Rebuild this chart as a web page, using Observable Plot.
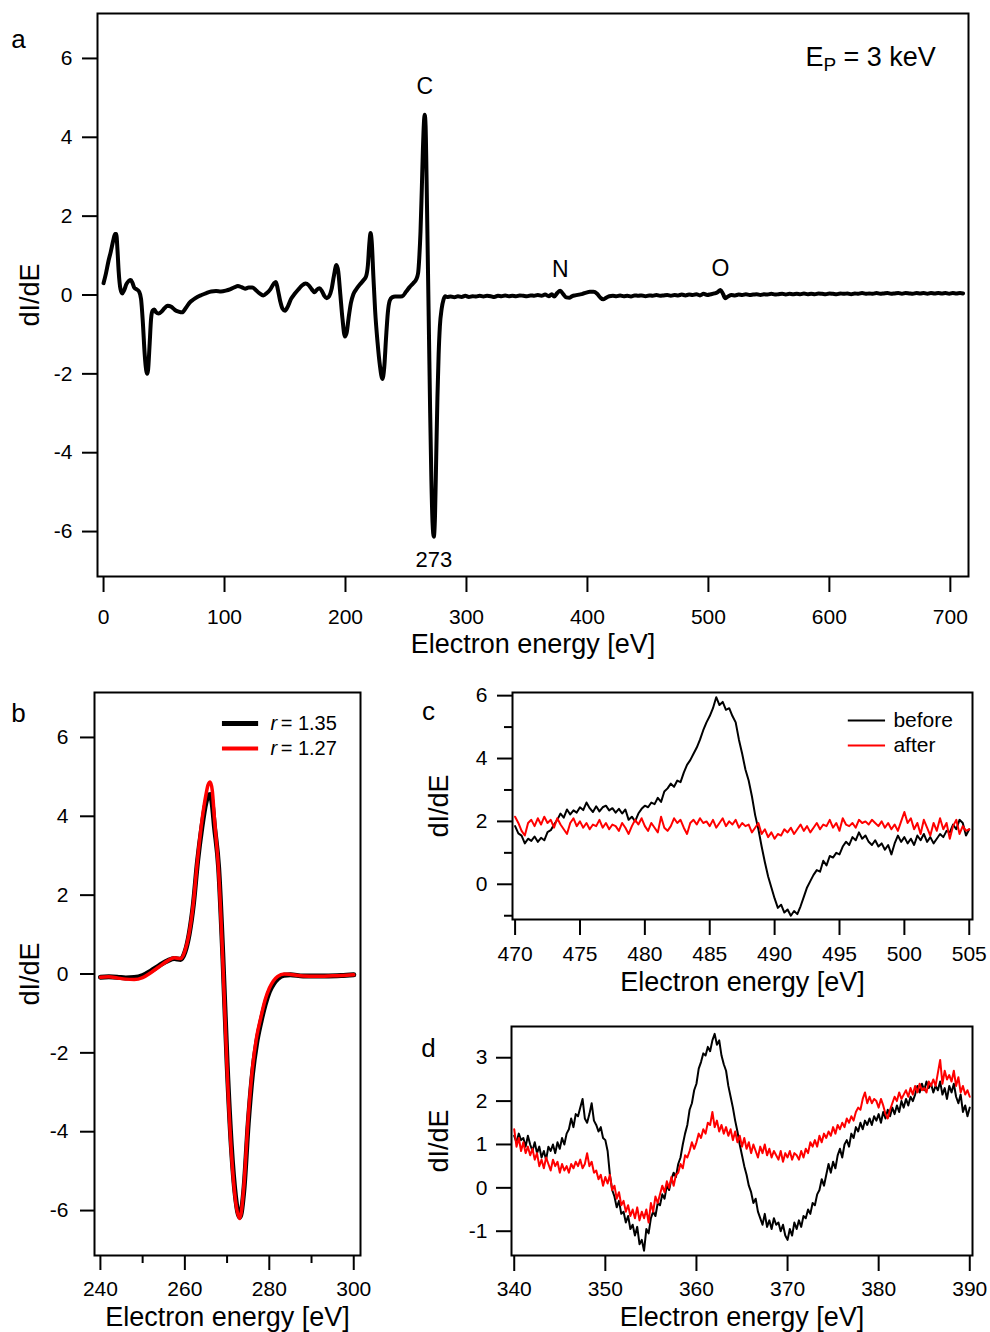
<!DOCTYPE html>
<html>
<head>
<meta charset="utf-8">
<script src="https://cdn.jsdelivr.net/npm/d3@7"></script>
<script src="https://cdn.jsdelivr.net/npm/@observablehq/plot@0.6"></script>
<style>
  html, body { margin: 0; padding: 0; background: #fff; }
  #fig { position: relative; width: 990px; height: 1332px; background: #fff; }
  #fig svg { position: absolute; overflow: visible; }
</style>
</head>
<body>
<div id="fig"></div>
<script>
// ---------------- DATA ----------------
// Panel a: full spectrum [energy eV, dI/dE]
const spectrumA = [
  [0,0.30],[2,0.55],[4,0.85],[6,1.10],[8,1.38],[9.5,1.55],[10.5,1.55],[11.5,1.15],[12.5,0.60],[14,0.15],
  [15.5,0.04],[17,0.12],[19,0.28],[21,0.36],[22.5,0.38],[24,0.30],[25.5,0.18],[27.5,0.14],[29.5,0.08],[31,-0.10],
  [32.5,-0.70],[34,-1.50],[35.3,-1.92],[36,-2.00],[36.8,-1.90],[38,-1.30],[39.3,-0.60],[40.5,-0.40],[42,-0.37],[43.5,-0.44],
  [45.5,-0.47],[48,-0.42],[50.5,-0.33],[53,-0.27],[56,-0.30],[59,-0.38],[62,-0.42],[65,-0.44],[68,-0.33],[71,-0.20],
  [74,-0.12],[77.5,-0.05],[81,0.00],[85,0.05],[89,0.09],[93,0.10],[97,0.09],[101,0.11],[105,0.15],[108.5,0.20],
  [111,0.23],[114,0.20],[117,0.16],[120,0.19],[123,0.19],[126,0.12],[129,0.04],[132,-0.01],[135,0.05],[138,0.15],
  [141,0.30],[142.5,0.33],[144,0.15],[146,-0.15],[148,-0.35],[150,-0.40],[152.5,-0.28],[155,-0.10],[158,0.03],[161,0.14],
  [164,0.24],[167,0.29],[169.5,0.25],[172,0.15],[174.5,0.07],[176.5,0.14],[178.5,0.17],[180.5,0.10],[182.5,-0.02],[184.5,-0.08],
  [186.5,-0.03],[188.5,0.15],[190.5,0.50],[192.5,0.76],[194,0.60],[195.5,0.10],[197.5,-0.60],[199.5,-1.05],[201,-0.95],[202.5,-0.60],
  [204.5,-0.20],[206.5,0.02],[209,0.15],[212,0.27],[215,0.38],[217,0.47],[218.5,0.75],[219.7,1.30],[220.7,1.57],[221.7,1.35],
  [223,0.50],[224.5,-0.40],[226.5,-1.20],[228.5,-1.80],[230.5,-2.13],[232,-1.85],[233.5,-1.10],[235,-0.45],[236.5,-0.15],[238.5,-0.06],
  [241,-0.04],[244,-0.04],[247,-0.03],[250,0.08],[253,0.20],[256,0.30],[258.5,0.40],[260,0.55],[261,0.95],[262,1.60],
  [263,2.60],[264,3.70],[264.8,4.35],[265.5,4.57],[266.2,4.30],[267,3.00],[268,1.00],[269,-1.00],[270,-3.00],[271,-4.70],
  [272,-5.80],[273,-6.13],[274,-5.60],[275,-4.10],[276,-2.60],[277,-1.50],[278,-0.80],[279.5,-0.35],[281,-0.12],[282.5,-0.03],
  [284,-0.05],[287,-0.04],[290,-0.06],[293,-0.03],[296,-0.05],[299,-0.02],[302,-0.05],[305,-0.03],[308,-0.04],[311,-0.02],
  [314,-0.04],[317,-0.02],[320,-0.03],[323,-0.05],[326,-0.02],[329,-0.03],[332,-0.01],[335,-0.03],[338,-0.02],[341,-0.03],
  [344,-0.01],[347,-0.02],[350,-0.03],[353,-0.01],[356,-0.02],[359,0.00],[362,-0.02],[365,0.01],[368,-0.03],[370.5,0.02],
  [372.5,-0.04],[375,0.05],[377.5,0.11],[380,0.02],[382.5,-0.06],[385,-0.07],[387.5,-0.03],[390,-0.01],[393,0.01],[396,0.03],
  [399,0.06],[402,0.08],[405,0.08],[408,0.03],[410.5,-0.06],[413,-0.11],[415.5,-0.07],[418,-0.03],[421,-0.02],[424,-0.03],
  [427,-0.01],[430,-0.03],[433,-0.02],[436,-0.04],[439,-0.01],[442,-0.02],[445,-0.01],[448,-0.03],[451,-0.01],[454,-0.02],
  [457,0.00],[460,-0.02],[463,-0.01],[466,0.00],[469,-0.02],[472,0.00],[475,-0.01],[478,0.01],[481,-0.01],[484,0.01],
  [487,0.00],[490,0.02],[493,-0.01],[496,0.03],[499,0.00],[502,0.02],[505,0.04],[507.5,0.07],[510,0.13],[512,0.03],
  [514,-0.08],[516.5,-0.03],[519,0.00],[522,-0.01],[525,0.01],[528,0.00],[531,0.02],[534,0.00],[537,0.01],[540,0.02],
  [543,0.00],[546,0.02],[549,0.01],[552,0.03],[555,0.01],[558,0.02],[561,0.03],[564,0.01],[567,0.03],[570,0.02],
  [573,0.03],[576,0.02],[579,0.04],[582,0.02],[585,0.03],[588,0.02],[591,0.04],[594,0.03],[597,0.02],[600,0.04],
  [603,0.03],[606,0.02],[609,0.04],[612,0.03],[615,0.04],[618,0.02],[621,0.04],[624,0.03],[627,0.05],[630,0.03],
  [633,0.04],[636,0.03],[639,0.05],[642,0.03],[645,0.04],[648,0.05],[651,0.03],[654,0.04],[657,0.05],[660,0.03],
  [663,0.05],[666,0.04],[669,0.03],[672,0.05],[675,0.04],[678,0.05],[681,0.03],[684,0.05],[687,0.04],[690,0.05],
  [693,0.04],[696,0.05],[699,0.03],[702,0.05],[705,0.04],[708,0.05],[710.5,0.04]
];
const peakNames = ["C", "N", "O"];
const peakEnergies = [265.5, 377.5, 510];
const minimumEnergy = 273;
const xTicksA = [0, 100, 200, 300, 400, 500, 600, 700];
const yTicksA = [-6, -4, -2, 0, 2, 4, 6];

// Panel b: carbon KLL peak for two ratios
const energyB = [240,242,244,246,248,250,252,254,256,257.5,259,260,261,262,263,264,265,265.5,266,266.5,267,268,269,270,271,272,273,274,275,276,277,278,279,280,281,282,283.5,285,288,291,294,297,300];
const signalR135 = [-0.08,-0.07,-0.08,-0.10,-0.09,-0.04,0.08,0.22,0.34,0.39,0.37,0.55,1.00,1.75,2.85,3.70,4.35,4.52,4.55,4.30,3.75,2.70,0.45,-2.25,-4.35,-5.65,-6.17,-5.45,-3.80,-2.55,-1.75,-1.22,-0.78,-0.45,-0.25,-0.12,-0.03,-0.02,-0.05,-0.05,-0.05,-0.04,-0.02];
const signalR127 = [-0.08,-0.07,-0.10,-0.13,-0.14,-0.09,0.04,0.19,0.34,0.41,0.39,0.58,1.02,1.78,2.90,3.85,4.55,4.80,4.87,4.65,3.95,2.60,0.30,-2.40,-4.50,-5.75,-6.20,-5.35,-3.65,-2.40,-1.60,-1.10,-0.66,-0.36,-0.17,-0.06,0.00,-0.01,-0.05,-0.06,-0.05,-0.04,-0.02];
const ratioLabels = ["1.35", "1.27"];
const xTicksB = [240, 260, 280, 300];
const xMinorB = [250, 270, 290];
const yTicksB = [-6, -4, -2, 0, 2, 4, 6];

// Panel c: 470–505 eV, sampled every 0.25 eV
const startC = 470, stepC = 0.25;
const beforeC = [
  1.85,1.62,1.55,1.30, 1.45,1.38,1.52,1.35, 1.48,1.40,1.66,1.72, 1.90,2.05,2.25,2.12, 2.38,2.22,2.35,2.28,
  2.45,2.36,2.60,2.42, 2.30,2.48,2.32,2.45, 2.50,2.35,2.42,2.28, 2.40,2.25,2.38,2.05, 2.15,2.00,2.25,2.40,
  2.50,2.45,2.60,2.55, 2.75,2.62,2.95,3.05, 3.20,3.10,3.30,3.25, 3.55,3.80,3.95,4.15, 4.35,4.60,4.90,5.15,
  5.35,5.60,5.95,5.70, 5.80,5.55,5.60,5.35, 5.15,4.60,4.15,3.65, 3.30,2.80,2.20,1.75, 1.20,0.70,0.25,-0.10,
  -0.45,-0.75,-0.65,-0.90, -0.80,-1.00,-0.85,-0.95, -0.70,-0.40,-0.10,0.10, 0.30,0.45,0.40,0.75, 0.60,0.90,0.85,1.00,
  0.95,1.20,1.35,1.25, 1.50,1.40,1.65,1.45, 1.55,1.35,1.25,1.40, 1.20,1.30,1.10,1.25, 0.95,1.30,1.55,1.35,
  1.50,1.30,1.45,1.25, 1.55,1.40,1.60,1.35, 1.50,1.30,1.45,1.60, 1.50,1.70,1.65,1.90, 1.75,2.05,1.95,1.55,
  1.75
];
const afterC = [
  2.15,1.95,1.70,1.55, 1.95,2.05,1.85,2.10, 1.90,2.15,1.95,2.05, 1.80,2.10,1.90,1.75, 1.60,1.95,2.10,1.85,
  2.00,1.80,1.95,1.75, 1.90,1.85,2.05,1.80, 1.95,1.75,1.90,1.85, 1.70,1.95,1.80,1.60, 1.85,2.05,1.90,2.10,
  1.85,1.70,1.95,1.80, 1.65,2.15,1.80,1.70, 1.85,2.10,1.95,2.05, 1.80,1.60,1.95,2.05, 1.90,2.10,1.95,2.00,
  1.85,2.05,1.80,1.95, 2.10,1.85,2.00,1.90, 2.05,1.80,1.95,1.85, 1.90,1.65,1.80,1.95, 1.60,1.75,1.50,1.65,
  1.45,1.60,1.55,1.75, 1.65,1.80,1.60,1.75, 1.90,1.70,1.85,1.65, 1.80,1.95,1.75,1.90, 1.85,2.05,1.80,1.95,
  1.70,2.10,1.90,1.85, 1.95,1.80,2.05,1.95, 2.00,1.90,2.05,1.95, 1.85,2.00,1.80,1.95, 1.75,1.90,1.70,2.00,
  2.30,1.95,2.10,1.75, 1.95,1.60,2.05,1.80, 1.55,1.95,1.70,2.10, 1.75,1.95,1.45,1.85, 2.05,1.60,1.85,1.70,
  1.75
];
const xTicksC = [470, 475, 480, 485, 490, 495, 500, 505];
const yTicksC = [0, 2, 4, 6];
const yMinorC = [-1, 1, 3, 5];
const seriesNames = ["before", "after"];

// Panel d: 340–390 eV, sampled every 0.25 eV
const startD = 340, stepD = 0.25;
const beforeD = [
  1.20,1.05,1.25,1.10, 1.15,0.95,1.20,1.00, 0.85,1.05,0.80,0.95, 0.70,0.85,0.65,0.95, 0.85,1.00,0.80,1.05,
  0.90,1.15,1.00,1.25, 1.35,1.60,1.40,1.70, 1.65,1.85,2.05,1.60, 1.50,1.70,1.95,1.55, 1.45,1.30,1.40,1.15,
  1.10,0.85,0.30,-0.05, -0.20,-0.45,-0.30,-0.60, -0.55,-0.80,-0.65,-0.95, -0.85,-1.10,-0.90,-1.30, -1.20,-1.45,-0.95,-1.05,
  -0.70,-0.55,-0.65,-0.35, -0.40,-0.15,-0.25,0.05, -0.05,0.20,0.35,0.25, 0.55,0.70,1.00,1.25, 1.45,1.80,1.95,2.25,
  2.40,2.75,2.90,3.10, 3.05,3.25,3.15,3.40, 3.55,3.30,3.40,3.05, 2.85,2.70,2.35,2.10, 1.85,1.55,1.30,1.00,
  0.75,0.50,0.30,0.05, -0.10,-0.35,-0.25,-0.55, -0.70,-0.85,-0.60,-0.90, -0.75,-0.95,-0.70,-0.85, -0.80,-1.00,-0.85,-1.10,
  -1.20,-0.95,-1.10,-0.80, -0.95,-0.75,-0.90,-0.65, -0.70,-0.50,-0.60,-0.35, -0.40,-0.15,-0.05,0.20, 0.05,0.30,0.55,0.35,
  0.60,0.45,0.75,0.90, 0.70,1.00,1.10,0.95, 1.25,1.15,1.40,1.30, 1.50,1.35,1.55,1.45, 1.60,1.45,1.65,1.55,
  1.70,1.50,1.75,1.60, 1.80,1.65,1.85,1.70, 1.90,1.75,2.00,1.85, 2.05,1.90,2.10,2.00, 2.15,2.35,2.20,2.40,
  2.25,2.45,2.30,2.40, 2.20,2.35,2.25,2.45, 2.15,2.30,2.05,2.35, 2.20,2.40,2.10,1.95, 2.15,1.75,1.90,1.65,
  1.85
];
const afterD = [
  1.35,0.95,1.15,0.85, 1.05,0.80,0.95,0.75, 0.90,0.65,0.80,0.50, 0.65,0.45,0.70,0.55, 0.40,0.65,0.50,0.60,
  0.35,0.55,0.40,0.50, 0.35,0.55,0.45,0.60, 0.50,0.65,0.45,0.55, 0.80,0.50,0.60,0.35, 0.40,0.20,0.30,0.05,
  0.25,0.10,0.30,-0.05, 0.05,-0.25,-0.10,-0.40, -0.30,-0.55,-0.40,-0.65, -0.50,-0.70,-0.45,-0.75, -0.55,-0.70,-0.50,-0.80,
  -0.35,-0.55,-0.20,-0.35, -0.15,0.05,-0.10,0.15, 0.00,0.25,0.05,0.30, 0.35,0.55,0.45,0.75, 0.70,0.85,1.05,0.90,
  1.05,1.25,1.15,1.35, 1.25,1.50,1.45,1.75, 1.40,1.55,1.30,1.45, 1.25,1.40,1.20,1.35, 1.10,1.30,1.05,1.20,
  0.95,1.15,0.90,1.05, 0.80,1.00,0.85,0.70, 0.95,0.80,1.00,0.75, 0.90,0.70,0.85,0.75, 0.65,0.85,0.60,0.80,
  0.70,0.85,0.65,0.80, 0.75,0.65,0.85,0.70, 0.90,0.80,1.05,0.95, 1.10,0.95,1.20,1.05, 1.25,1.15,1.30,1.20,
  1.40,1.25,1.45,1.35, 1.50,1.40,1.60,1.50, 1.65,1.55,1.75,1.85, 1.80,2.05,2.20,1.95, 2.10,1.95,2.05,2.00,
  1.85,2.05,1.90,1.70, 1.60,1.80,1.95,2.10, 2.00,2.20,2.05,2.15, 2.25,2.10,2.30,2.15, 2.35,2.20,2.40,2.25,
  2.30,2.20,2.45,2.35, 2.50,2.35,2.65,2.95, 2.40,2.70,2.50,2.60, 2.45,2.70,2.35,2.55, 2.20,2.35,2.15,2.25,
  2.10
];
const xTicksD = [340, 350, 360, 370, 380, 390];
const yTicksD = [-1, 0, 1, 2, 3];

// ---------------- HELPERS ----------------
const FONT = '"Liberation Sans", Arial, Helvetica, sans-serif';
const TITLE = 27;
const fig = document.getElementById("fig");
const fmt = d => String(d);
const fx = (dom, f) => dom[0] + f * (dom[1] - dom[0]);
const fy = (dom, f) => dom[1] - f * (dom[1] - dom[0]);
const gridSeries = (start, step, values) => values.map((v, i) => ({E: start + i * step, v}));

function place(svg, left, top) {
  svg.style.left = left + "px";
  svg.style.top = top + "px";
  fig.appendChild(svg);
}
function styleFor() {
  return {fontFamily: FONT, fontSize: "21px", color: "black", background: "transparent", overflow: "visible"};
}
function axes({xTicks, xMinor = [], yTicks, yMinor = [], xTickSize = 16, xPad = 15, yTickSize = 15, yPad = 10}) {
  const m = [
    Plot.axisX({ticks: xTicks, anchor: "bottom", tickSize: xTickSize, tickPadding: xPad, strokeWidth: 2, fontSize: 21, tickFormat: fmt, label: null}),
    Plot.axisY({ticks: yTicks, anchor: "left", tickSize: yTickSize, tickPadding: yPad, strokeWidth: 2, fontSize: 21, tickFormat: fmt, label: null})
  ];
  if (xMinor.length) m.push(Plot.axisX({ticks: xMinor, anchor: "bottom", tickSize: 8, strokeWidth: 2, tickFormat: () => "", label: null}));
  if (yMinor.length) m.push(Plot.axisY({ticks: yMinor, anchor: "left", tickSize: 8, strokeWidth: 2, tickFormat: () => "", label: null}));
  return m;
}
const panelLabel = (t, dx, dy) => Plot.text([t], {text: d => d, frameAnchor: "top-left", dx, dy, fontSize: 26, textAnchor: "middle", lineAnchor: "middle"});
const yTitle = dx => Plot.text(["dI/dE"], {text: d => d, frameAnchor: "left", dx, rotate: -90, fontSize: TITLE, textAnchor: "middle", lineAnchor: "middle"});
const xTitle = dy => Plot.text(["Electron energy [eV]"], {text: d => d, frameAnchor: "bottom", dy, fontSize: TITLE, textAnchor: "middle", lineAnchor: "middle"});
const frame = () => Plot.frame({stroke: "black", strokeWidth: 2});

// ---------------- PANEL A ----------------
{
  const xDom = [-5, 715], yDom = [-7.14, 7.14];
  const rows = spectrumA.map(([E, v]) => ({E, v}));
  const valueAt = E => rows.reduce((b, r) => Math.abs(r.E - E) < Math.abs(b.E - E) ? r : b).v;
  const peaks = peakNames.map((name, i) => ({name, E: peakEnergies[i], v: valueAt(peakEnergies[i])}));
  const minRow = [{name: String(minimumEnergy), E: minimumEnergy, v: valueAt(minimumEnergy)}];
  const svg = Plot.plot({
    width: 990, height: 670, marginLeft: 97, marginRight: 22, marginTop: 13, marginBottom: 94,
    style: styleFor(),
    x: {domain: xDom, label: null},
    y: {domain: yDom, label: null},
    marks: [
      Plot.line(rows, {x: "E", y: "v", stroke: "black", strokeWidth: 4, curve: "monotone-x", strokeLinejoin: "round", strokeLinecap: "round"}),
      Plot.text(peaks.slice(0, 1), {x: "E", y: "v", text: "name", dy: -28, fontSize: 23, lineAnchor: "middle"}),
      Plot.text(peaks.slice(1), {x: "E", y: "v", text: "name", dy: -21, fontSize: 23, lineAnchor: "middle"}),
      Plot.text(minRow, {x: "E", y: "v", text: "name", dy: 23, fontSize: 22, lineAnchor: "middle"}),
      Plot.text(["E"], {text: d => d, frameAnchor: "top-right", dx: -163, dy: 44, fontSize: 27, textAnchor: "start", lineAnchor: "middle"}),
      Plot.text(["P"], {text: d => d, frameAnchor: "top-right", dx: -145, dy: 51, fontSize: 19, textAnchor: "start", lineAnchor: "middle"}),
      Plot.text(["= 3 keV"], {text: d => d, frameAnchor: "top-right", dx: -125, dy: 44, fontSize: 27, textAnchor: "start", lineAnchor: "middle"}),
      frame(),
      ...axes({xTicks: xTicksA, yTicks: yTicksA, xTickSize: 16, xPad: 17, yTickSize: 15, yPad: 10}),
      panelLabel("a", -79, 26),
      yTitle(-67),
      xTitle(68)
    ]
  });
  place(svg, 0, 0);
}

// ---------------- PANEL B ----------------
{
  const xDom = [238.6, 301.6], yDom = [-7.14, 7.14];
  const black = energyB.map((E, i) => ({E, v: signalR135[i]}));
  const red = energyB.map((E, i) => ({E, v: signalR127[i]}));
  const ly1 = fy(yDom, 0.055), ly2 = fy(yDom, 0.0995);
  const lx1 = fx(xDom, 0.481), lx2 = fx(xDom, 0.617);
  const svg = Plot.plot({
    width: 400, height: 662, marginLeft: 94, marginRight: 40, marginTop: 22, marginBottom: 77,
    style: styleFor(),
    x: {domain: xDom, label: null},
    y: {domain: yDom, label: null},
    marks: [
      Plot.line(black, {x: "E", y: "v", stroke: "black", strokeWidth: 5, curve: "monotone-x", strokeLinejoin: "round"}),
      Plot.line(red, {x: "E", y: "v", stroke: "#ff0000", strokeWidth: 3.5, curve: "monotone-x", strokeLinejoin: "round"}),
      Plot.ruleY([ly1], {x1: lx1, x2: lx2, stroke: "black", strokeWidth: 5}),
      Plot.ruleY([ly2], {x1: lx1, x2: lx2, stroke: "#ff0000", strokeWidth: 4}),
      Plot.text([ly1, ly2], {x: fx(xDom, 0.662), y: d => d, text: () => "r", fontStyle: "italic", fontSize: 20, textAnchor: "start", lineAnchor: "middle"}),
      Plot.text([ly1, ly2], {x: fx(xDom, 0.70), y: d => d, text: (d, i) => "= " + ratioLabels[i], fontSize: 20, textAnchor: "start", lineAnchor: "middle"}),
      frame(),
      ...axes({xTicks: xTicksB, xMinor: xMinorB, yTicks: yTicksB, xTickSize: 15, xPad: 11, yTickSize: 14, yPad: 12}),
      panelLabel("b", -76, 21),
      yTitle(-64),
      xTitle(62)
    ]
  });
  place(svg, 0, 670);
}

// ---------------- PANEL C ----------------
{
  const xDom = [469.8, 505.25], yDom = [-1.12, 6.1];
  const ly1 = fy(yDom, 0.123), ly2 = fy(yDom, 0.233);
  const lx1 = fx(xDom, 0.730), lx2 = fx(xDom, 0.811);
  const svg = Plot.plot({
    width: 590, height: 330, marginLeft: 112, marginRight: 18, marginTop: 22, marginBottom: 81,
    style: styleFor(),
    x: {domain: xDom, label: null},
    y: {domain: yDom, label: null},
    marks: [
      Plot.line(gridSeries(startC, stepC, beforeC), {x: "E", y: "v", stroke: "black", strokeWidth: 2}),
      Plot.line(gridSeries(startC, stepC, afterC), {x: "E", y: "v", stroke: "#ff0000", strokeWidth: 2}),
      Plot.ruleY([ly1], {x1: lx1, x2: lx2, stroke: "black", strokeWidth: 2}),
      Plot.ruleY([ly2], {x1: lx1, x2: lx2, stroke: "#ff0000", strokeWidth: 2}),
      Plot.text([ly1, ly2], {x: fx(xDom, 0.828), y: d => d, text: (d, i) => seriesNames[i], fontSize: 21, textAnchor: "start", lineAnchor: "middle"}),
      frame(),
      ...axes({xTicks: xTicksC, yTicks: yTicksC, yMinor: yMinorC, xTickSize: 16, xPad: 11, yTickSize: 15, yPad: 10}),
      panelLabel("c", -84, 19),
      yTitle(-73),
      xTitle(63)
    ]
  });
  place(svg, 400, 670);
}

// ---------------- PANEL D ----------------
{
  const xDom = [339.7, 390.3], yDom = [-1.56, 3.72];
  const svg = Plot.plot({
    width: 590, height: 332, marginLeft: 111, marginRight: 18, marginTop: 26, marginBottom: 77,
    style: styleFor(),
    x: {domain: xDom, label: null},
    y: {domain: yDom, label: null},
    marks: [
      Plot.line(gridSeries(startD, stepD, beforeD), {x: "E", y: "v", stroke: "black", strokeWidth: 2}),
      Plot.line(gridSeries(startD, stepD, afterD), {x: "E", y: "v", stroke: "#ff0000", strokeWidth: 2}),
      frame(),
      ...axes({xTicks: xTicksD, yTicks: yTicksD, xTickSize: 16, xPad: 10, yTickSize: 15, yPad: 9}),
      panelLabel("d", -83, 22),
      yTitle(-72),
      xTitle(62)
    ]
  });
  place(svg, 400, 1000);
}
</script>
</body>
</html>
